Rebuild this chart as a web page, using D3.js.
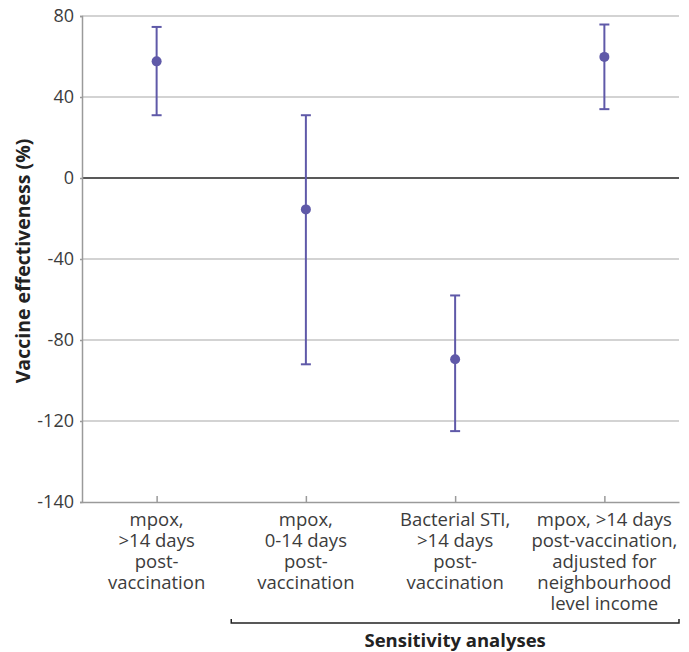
<!DOCTYPE html>
<html>
<head>
<meta charset="utf-8">
<script src="https://cdn.jsdelivr.net/npm/d3@7"></script>
<style>
  body { margin: 0; background: #fff; }
  svg { display: block; font-family: "Open Sans", "Noto Sans", sans-serif; }
</style>
</head>
<body>
<div id="chart"></div>
<script>
// category labels, one array of lines per estimate
var categories = [
    ["mpox,", ">14 days", "post-", "vaccination"],
    ["mpox,", "0-14 days", "post-", "vaccination"],
    ["Bacterial STI,", ">14 days", "post-", "vaccination"],
    ["mpox, >14 days", "post-vaccination,", "adjusted for", "neighbourhood", "level income"]
];

// vaccine effectiveness (%) and 95% CI
var estimates = [57.6, -15.5, -89.5, 59.8];
var lowerCI = [31, -92, -122.5, 34];
var upperCI = [74.6, 31, -58, 75.8];

var yTicks = [80, 40, 0, -40, -80, -120, -140];

var sensitivityLabel = "Sensitivity analyses";
var yTitle = "Vaccine effectiveness (%)";

var width = 689, height = 652;
var plotLeft = 82, plotRight = 679, plotTop = 16, plotBottom = 502;
var purple = "#5f59a8";

var svg = d3.select("#chart").append("svg")
    .attr("width", width)
    .attr("height", height);

var idx = d3.range(categories.length);

var x = d3.scalePoint()
    .domain(idx)
    .range([plotLeft, plotRight])
    .padding(0.5);

// the axis is drawn with equal spacing between -120 and -140 as between other ticks
var y = d3.scaleLinear()
    .domain([-140, -120, 80])
    .range([plotBottom, plotBottom - (plotBottom - plotTop) / 6, plotTop]);

//gridlines
svg.append("g")
    .selectAll("line")
    .data(yTicks.filter(function(d){ return d != -140; }))
    .enter().append("line")
    .attr("x1", plotLeft)
    .attr("x2", plotRight)
    .attr("y1", function(d){ return y(d); })
    .attr("y2", function(d){ return y(d); })
    .attr("stroke", function(d){ return d == 0 ? "#222" : "#c4c4c4"; })
    .attr("stroke-width", 1.5);

//left axis
var yAxis = d3.axisLeft(y)
    .tickValues(yTicks)
    .tickSize(2)
    .tickPadding(6)
    .tickFormat(function(d){ return d; });

var gy = svg.append("g")
    .attr("transform", "translate(" + plotLeft + ",0)")
    .call(yAxis);
gy.select(".domain").attr("stroke", "#9a9a9a").attr("stroke-width", 1.5);
gy.selectAll(".tick line").attr("stroke", "#9a9a9a").attr("stroke-width", 1.5);
gy.selectAll(".tick text")
    .attr("font-size", 18)
    .attr("fill", "#3c3c3c")
    .attr("font-family", "'Open Sans', sans-serif");

//bottom axis
var xAxis = d3.axisBottom(x)
    .tickSizeInner(-6)
    .tickSizeOuter(0)
    .tickFormat("");

var gx = svg.append("g")
    .attr("transform", "translate(0," + plotBottom + ")")
    .call(xAxis);
gx.select(".domain").attr("stroke", "#9a9a9a").attr("stroke-width", 1.5);
gx.selectAll(".tick line").attr("stroke", "#9a9a9a").attr("stroke-width", 1.5);

//category labels
var labels = svg.append("g")
    .selectAll("text")
    .data(idx)
    .enter().append("text")
    .attr("text-anchor", "middle")
    .attr("font-size", 18.5)
    .attr("fill", "#3c3c3c")
    .attr("x", function(d){ return x(d); })
    .attr("y", plotBottom + 24);

labels.selectAll("tspan")
    .data(function(d){ return categories[d]; })
    .enter().append("tspan")
    .attr("x", function(){ return x(d3.select(this.parentNode).datum()); })
    .attr("dy", function(d, i){ return i == 0 ? 0 : 21; })
    .text(function(d){ return d; });

//error bars
var bars = svg.append("g")
    .selectAll("g")
    .data(idx)
    .enter().append("g");

bars.append("line")
    .attr("x1", function(d){ return x(d); })
    .attr("x2", function(d){ return x(d); })
    .attr("y1", function(d){ return y(lowerCI[d]); })
    .attr("y2", function(d){ return y(upperCI[d]); })
    .attr("stroke", purple)
    .attr("stroke-width", 2);

bars.selectAll(".cap")
    .data(function(d){ return [[d, lowerCI[d]], [d, upperCI[d]]]; })
    .enter().append("line")
    .attr("class", "cap")
    .attr("x1", function(d){ return x(d[0]) - 5; })
    .attr("x2", function(d){ return x(d[0]) + 5; })
    .attr("y1", function(d){ return y(d[1]); })
    .attr("y2", function(d){ return y(d[1]); })
    .attr("stroke", purple)
    .attr("stroke-width", 2);

bars.append("circle")
    .attr("cx", function(d){ return x(d); })
    .attr("cy", function(d){ return y(estimates[d]); })
    .attr("r", 5)
    .attr("fill", purple);

//bracket under the sensitivity analyses
var bx1 = x(1) - x.step() / 2;
var bx2 = plotRight;
var by = 623;
svg.append("path")
    .attr("d", "M" + bx1 + "," + (by - 4) + "V" + by + "H" + bx2 + "V" + (by - 4))
    .attr("fill", "none")
    .attr("stroke", "#222")
    .attr("stroke-width", 1.5);

svg.append("text")
    .attr("x", (bx1 + bx2) / 2)
    .attr("y", 647)
    .attr("text-anchor", "middle")
    .attr("font-size", 18.5)
    .attr("font-weight", "bold")
    .attr("fill", "#222")
    .text(sensitivityLabel);

//y title
svg.append("text")
    .attr("transform", "translate(30," + 261 + ") rotate(-90)")
    .attr("text-anchor", "middle")
    .attr("font-size", 19.5)
    .attr("font-weight", "bold")
    .attr("fill", "#222")
    .text(yTitle);
</script>
</body>
</html>
